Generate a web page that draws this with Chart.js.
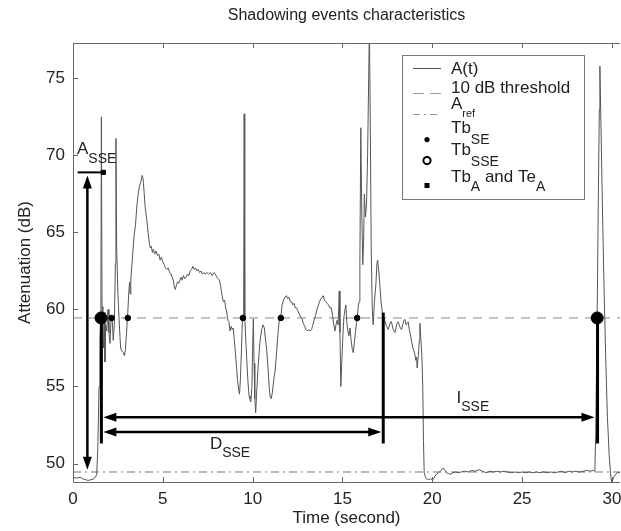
<!DOCTYPE html>
<html lang="en">
<head>
  <meta charset="UTF-8">
  <title>Shadowing events characteristics</title>
  <script src="https://cdn.jsdelivr.net/npm/chart.js"></script>
  <style>
    html, body { margin: 0; padding: 0; background: #fff; }
  </style>
</head>
<body>
  <canvas id="shadowChart" width="621" height="531"></canvas>

  <script>
    // A(t), segment by segment (time in s, attenuation in dB)
    const timeSec = [
      0.00,0.20,0.40,0.55,0.70,0.85,1.00,1.15,1.25,1.32,1.38,1.45,1.50,1.55,
      1.58,1.62,1.66,1.70,1.75,1.78,1.82,1.88,1.95,2.00,2.06,2.12,2.18,2.24,2.30,2.36,2.39,2.43,2.50,2.58,2.65,2.72,2.80,2.86,2.92,2.98,3.05,
      3.10,3.15,3.18,3.22,3.30,3.40,3.48,3.56,3.63,3.70,3.78,3.85,3.90,3.96,4.02,4.10,4.18,4.25,4.30,4.36,4.42,4.47,4.55,4.62,4.70,4.78,4.85,4.92,5.00,
      5.08,5.15,5.22,5.30,5.38,5.45,5.52,5.58,5.65,5.70,5.76,5.82,5.88,5.95,6.02,6.08,6.15,6.22,6.30,6.38,6.45,6.52,6.60,6.68,6.75,6.82,6.90,6.97,7.05,7.12,7.20,7.28,7.35,7.45,7.55,7.65,7.75,7.85,7.92,8.00,
      8.08,8.15,8.22,8.30,8.37,8.44,8.50,8.55,8.62,8.68,8.74,8.80,8.86,8.92,8.98,9.04,9.10,9.16,9.22,9.27,9.32,9.38,9.43,9.50,9.53,9.56,9.62,9.68,9.74,9.80,9.85,9.90,9.96,10.00,10.04,10.08,10.12,10.17,10.22,10.30,10.40,10.50,10.58,10.65,10.72,10.78,10.85,10.92,10.98,11.03,11.10,11.18,11.25,11.32,11.40,11.48,11.56,
      11.64,11.72,11.80,11.88,11.95,12.02,12.10,12.17,12.24,12.30,12.38,12.45,12.52,12.60,12.68,12.75,12.82,12.90,12.97,13.05,13.12,13.20,13.28,13.35,13.42,13.50,13.56,13.64,13.72,13.80,13.88,13.93,14.00,14.08,14.15,14.22,14.30,14.38,14.45,14.52,14.58,14.64,14.70,14.76,14.82,14.86,14.91,14.96,15.02,15.08,15.14,15.19,15.24,15.30,15.36,15.42,15.48,15.55,15.60,15.66,15.72,15.78,15.82,15.88,15.93,
      15.97,16.02,16.08,16.13,16.18,16.22,16.28,16.34,16.40,16.46,16.50,16.55,16.60,16.66,16.71,16.78,16.86,16.92,16.96,17.02,17.08,17.15,17.22,17.30,17.38,17.46,17.55,17.62,17.68,17.73,17.80,17.86,17.92,17.98,18.04,18.10,18.16,18.22,18.29,18.35,18.42,18.48,18.54,18.60,18.66,18.72,18.78,18.85,18.92,18.98,19.03,19.08,19.12,19.16,19.22,19.28,19.31,19.36,19.42,19.47,19.51,19.55,
      19.62,19.70,19.80,19.90,20.00,20.08,20.15,20.25,20.35,20.45,20.55,20.62,20.70,20.80,20.90,21.00,21.15,21.30,21.45,21.60,21.80,22.00,22.20,22.40,22.60,22.80,23.00,23.20,23.40,23.60,23.80,24.00,24.20,24.40,24.60,24.80,25.00,25.20,25.40,25.60,25.80,26.00,26.20,26.40,26.60,26.80,27.00,27.20,27.40,27.60,27.80,28.00,28.20,28.40,28.60,28.80,28.95,29.05,
      29.10,29.15,29.20,29.25,29.30,29.33,29.36,29.45,29.55,29.65,29.75,29.85,29.95,30.00,30.10,30.20,30.30,30.45
    ];
    const attenDb = [
      49.1,49.05,49.1,49.0,48.95,48.9,48.95,49.0,49.1,49.3,51.0,55.0,58.0,59.5,
      72.5,59.0,60.2,57.5,59.8,56.6,59.0,58.6,60.0,58.5,57.8,59.5,59.4,58.0,59.0,63.0,71.1,64.0,61.0,59.0,57.5,57.3,57.2,57.0,57.4,58.5,59.8,
      61.0,61.8,61.0,62.0,63.2,64.8,65.5,66.8,67.5,68.0,68.3,68.7,68.5,67.6,66.6,65.9,65.0,64.3,64.0,64.1,63.7,63.9,63.6,63.8,63.5,63.6,63.2,63.4,63.1,
      62.9,62.7,62.6,62.7,62.4,62.3,62.1,61.9,61.4,61.3,61.6,61.8,61.7,61.9,62.1,61.9,62.2,62.0,62.1,62.3,62.2,62.5,62.6,62.8,62.6,62.7,62.5,62.6,62.4,62.5,62.3,62.4,62.3,62.4,62.3,62.4,62.2,62.4,62.3,62.1,
      62.0,61.9,61.5,60.9,60.5,60.6,60.1,59.9,59.3,59.2,58.6,58.9,58.7,58.8,58.0,57.2,56.3,55.4,54.8,54.5,55.5,57.5,59.4,59.6,72.7,59.5,58.0,56.6,55.3,54.4,54.2,54.0,55.0,57.5,59.4,56.5,54.2,53.3,54.5,56.2,57.8,58.7,59.0,58.8,58.0,57.4,56.3,55.0,54.3,54.2,54.6,55.5,56.0,57.0,58.3,59.3,59.45,
      60.3,60.6,60.8,60.9,60.7,60.8,60.5,60.5,60.3,60.4,60.1,60.1,59.9,59.7,59.5,59.4,59.1,58.9,58.7,58.6,58.7,58.6,58.7,59.0,59.3,59.6,59.9,60.2,60.5,60.7,60.8,60.9,60.6,60.5,60.4,60.3,60.1,60.1,59.6,59.0,58.6,59.0,59.3,59.0,61.2,58.5,55.0,56.5,58.2,59.5,60.0,60.3,59.2,58.6,58.3,58.8,58.0,57.4,57.2,57.8,58.5,59.1,59.45,60.2,60.5,
      63.0,71.8,66.0,62.9,64.5,67.5,66.0,66.8,70.0,75.0,78.5,72.0,64.0,60.0,59.0,60.5,61.6,63.0,63.2,62.5,61.6,60.5,59.8,59.5,59.2,58.9,58.7,59.0,59.2,59.2,58.8,58.6,58.5,58.8,59.1,59.2,59.0,58.8,58.7,59.0,59.3,59.35,59.0,59.1,59.2,58.7,58.4,57.9,57.5,57.3,57.1,56.7,56.9,56.2,57.0,58.0,59.1,58.2,57.0,55.0,51.5,49.4,
      49.1,49.0,48.95,49.0,48.95,49.0,49.2,49.3,49.4,49.5,49.65,49.7,49.55,49.4,49.35,49.3,49.4,49.45,49.4,49.45,49.5,49.45,49.55,49.5,49.6,49.5,49.4,49.5,49.45,49.5,49.45,49.5,49.45,49.4,49.45,49.4,49.45,49.4,49.45,49.4,49.45,49.4,49.45,49.4,49.45,49.4,49.45,49.5,49.4,49.5,49.45,49.5,49.45,49.5,49.55,49.5,49.55,49.5,
      52.0,57.0,62.0,68.0,73.0,75.8,74.0,68.0,62.0,57.0,53.0,50.5,49.0,48.8,49.1,49.3,49.4,49.4
    ];

    const thresholdDb = 59.45;   // Aref + 10 dB
    const arefDb = 49.45;
    const tbSE = [2.15, 3.05, 9.46, 11.57, 15.82];
    const tbSSE = [1.56, 29.18];
    const tbATime = [1.69];
    const tbAValue = [68.9];

    const xTicks = [0, 5, 10, 15, 20, 25, 30];
    const yTicks = [50, 55, 60, 65, 70, 75];

    // annotation spans (data units)
    const asseTime = 0.8;
    const asseSpan = [49.6, 68.9];
    const asseMark = [0.26, 1.69];
    const dsseSpan = [1.58, 17.27];
    const dsseLevel = 52.05;
    const isseSpan = [1.58, 29.14];
    const isseLevel = 53.0;
    const barTimes = [1.58, 17.27, 29.2];
    const barTops = [59.45, 59.8, 59.45];
    const barBottom = 51.3;

    const FONT = '"Liberation Sans", Arial, Helvetica, sans-serif';
    const TXT = '#222';

    function subText(ctx, x, y, parts, size, subSize, drop) {
      // parts alternate: normal, subscript, normal, ...
      let cx = x;
      parts.forEach((p, i) => {
        const sub = i % 2 === 1;
        ctx.font = (sub ? subSize : size) + 'px ' + FONT;
        ctx.fillText(p, cx, sub ? y + drop : y);
        cx += ctx.measureText(p).width;
      });
    }

    function arrowHead(ctx, x, y, dx, dy) {
      const len = 13, hw = 4.5;
      ctx.beginPath();
      ctx.moveTo(x, y);
      ctx.lineTo(x - dx * len - dy * hw, y - dy * len + dx * hw);
      ctx.lineTo(x - dx * len + dy * hw, y - dy * len - dx * hw);
      ctx.closePath();
      ctx.fill();
    }

    const decorPlugin = {
      id: 'decor',
      afterDatasetsDraw(chart) {
        const ctx = chart.ctx, xs = chart.scales.x, ys = chart.scales.y;
        const px = v => xs.getPixelForValue(v), py = v => ys.getPixelForValue(v);
        ctx.save();
        ctx.strokeStyle = '#000';
        ctx.fillStyle = '#000';
        ctx.lineCap = 'butt';

        // vertical bars at the SSE start / end points
        ctx.lineWidth = 3;
        barTimes.forEach((t, i) => {
          ctx.beginPath();
          ctx.moveTo(px(t), py(barTops[i]));
          ctx.lineTo(px(t), py(barBottom));
          ctx.stroke();
        });

        // double arrows D_SSE and I_SSE
        ctx.lineWidth = 2.5;
        [[dsseSpan, dsseLevel], [isseSpan, isseLevel]].forEach(([span, lvl]) => {
          const y = py(lvl), x0 = px(span[0]) + 2, x1 = px(span[1]) - 2;
          ctx.beginPath();
          ctx.moveTo(x0 + 10, y);
          ctx.lineTo(x1 - 10, y);
          ctx.stroke();
          arrowHead(ctx, x0, y, -1, 0);
          arrowHead(ctx, x1, y, 1, 0);
        });

        // A_SSE: short level mark and vertical double arrow
        ctx.lineWidth = 2;
        ctx.beginPath();
        ctx.moveTo(px(asseMark[0]), py(asseSpan[1]));
        ctx.lineTo(px(asseMark[1]), py(asseSpan[1]));
        ctx.stroke();
        const ax = px(asseTime), yTop = py(asseSpan[1]) + 3, yBot = py(asseSpan[0]);
        ctx.lineWidth = 2.5;
        ctx.beginPath();
        ctx.moveTo(ax, yTop + 10);
        ctx.lineTo(ax, yBot - 10);
        ctx.stroke();
        arrowHead(ctx, ax, yTop, 0, -1);
        arrowHead(ctx, ax, yBot, 0, 1);

        // labels
        ctx.fillStyle = TXT;
        ctx.textAlign = 'left';
        ctx.textBaseline = 'middle';
        subText(ctx, px(0.22), py(70.4), ['A', 'SSE'], 17, 14, 10);
        subText(ctx, px(7.62), py(51.25), ['D', 'SSE'], 17, 14, 9);
        subText(ctx, px(21.35), py(54.24), ['I', 'SSE'], 17, 14, 9);
        ctx.restore();
      },
      afterDraw(chart) {
        const ctx = chart.ctx, ca = chart.chartArea;
        const xs = chart.scales.x, ys = chart.scales.y;
        ctx.save();
        // axes box (right side is cut off in the original)
        ctx.strokeStyle = '#666';
        ctx.lineWidth = 1;
        ctx.beginPath();
        ctx.moveTo(ca.right, ca.top + 0.5);
        ctx.lineTo(ca.left + 0.5, ca.top + 0.5);
        ctx.lineTo(ca.left + 0.5, ca.bottom + 0.5);
        ctx.lineTo(ca.right, ca.bottom + 0.5);
        ctx.stroke();
        // inward ticks
        ctx.beginPath();
        xTicks.forEach(v => {
          const x = Math.round(xs.getPixelForValue(v)) + 0.5;
          ctx.moveTo(x, ca.bottom); ctx.lineTo(x, ca.bottom - 5);
          ctx.moveTo(x, ca.top); ctx.lineTo(x, ca.top + 5);
        });
        yTicks.forEach(v => {
          const y = Math.round(ys.getPixelForValue(v)) + 0.5;
          ctx.moveTo(ca.left, y); ctx.lineTo(ca.left + 5, y);
        });
        ctx.stroke();

        // title centred over the axes
        ctx.fillStyle = TXT;
        ctx.font = '16px ' + FONT;
        ctx.textAlign = 'center';
        ctx.textBaseline = 'middle';
        ctx.fillText('Shadowing events characteristics', (ca.left + ca.right) / 2, 16);

        // legend box
        const bx = ca.right - 218, by = ca.top + 12, bw = 182, bh = 144;
        ctx.fillStyle = '#fff';
        ctx.fillRect(bx, by, bw, bh);
        ctx.strokeStyle = '#777';
        ctx.strokeRect(bx + 0.5, by + 0.5, bw, bh);
        const sx0 = bx + 11, sx1 = bx + 39, mx = bx + 25, tx = bx + 49;

        ctx.lineWidth = 1;
        ctx.strokeStyle = '#555';
        ctx.beginPath(); ctx.moveTo(sx0, by + 13.5); ctx.lineTo(sx1, by + 13.5); ctx.stroke();
        ctx.strokeStyle = '#999';
        ctx.setLineDash([11, 6]);
        ctx.beginPath(); ctx.moveTo(sx0, by + 38.5); ctx.lineTo(sx1, by + 38.5); ctx.stroke();
        ctx.setLineDash([7, 4, 2, 4]);
        ctx.beginPath(); ctx.moveTo(sx0, by + 59.5); ctx.lineTo(sx1, by + 59.5); ctx.stroke();
        ctx.setLineDash([]);

        ctx.fillStyle = '#000';
        ctx.beginPath(); ctx.arc(mx, by + 84.6, 2.6, 0, Math.PI * 2); ctx.fill();
        ctx.strokeStyle = '#000';
        ctx.lineWidth = 2;
        ctx.beginPath(); ctx.arc(mx, by + 105.6, 3.6, 0, Math.PI * 2); ctx.stroke();
        ctx.fillRect(mx - 2.5, by + 128, 5, 5);

        ctx.fillStyle = TXT;
        ctx.textAlign = 'left';
        ctx.textBaseline = 'middle';
        subText(ctx, tx, by + 14.6, ['A(t)'], 17, 14, 0);
        subText(ctx, tx, by + 33.3, ['10 dB threshold'], 17, 14, 0);
        subText(ctx, tx, by + 49, ['A', 'ref'], 17, 11, 10);
        subText(ctx, tx, by + 73.3, ['Tb', 'SE'], 17, 14, 12);
        subText(ctx, tx, by + 95.6, ['Tb', 'SSE'], 17, 14, 11.5);
        subText(ctx, tx, by + 122.3, ['Tb', 'A', ' and Te', 'A'], 17, 14, 10);
        ctx.restore();
      }
    };

    const ctx = document.getElementById('shadowChart').getContext('2d');
    const xMax = 30.45;
    const chart = new Chart(ctx, {
      type: 'line',
      data: {
        datasets: [
          {
            label: 'Tb_SSE',
            data: tbSSE.map(t => ({ x: t, y: thresholdDb })),
            showLine: false, pointRadius: 6, pointBackgroundColor: '#000', pointBorderColor: '#000',
            order: 0
          },
          {
            label: 'Tb_SE',
            data: tbSE.map(t => ({ x: t, y: thresholdDb })),
            showLine: false, pointRadius: 2.8, pointBackgroundColor: '#000', pointBorderColor: '#000',
            order: 0
          },
          {
            label: 'Tb_A and Te_A',
            data: tbATime.map((t, i) => ({ x: t, y: tbAValue[i] })),
            showLine: false, pointStyle: 'rect', pointRadius: 3, pointBackgroundColor: '#000', pointBorderColor: '#000',
            order: 0
          },
          {
            label: 'A(t)',
            data: timeSec.map((t, i) => ({ x: t, y: attenDb[i] })),
            borderColor: '#555', borderWidth: 1, pointRadius: 0, tension: 0,
            order: 1
          },
          {
            label: '10 dB threshold',
            data: [{ x: 0, y: thresholdDb }, { x: xMax, y: thresholdDb }],
            borderColor: '#888', borderWidth: 1, borderDash: [9, 7], pointRadius: 0,
            order: 2
          },
          {
            label: 'Aref',
            data: [{ x: 0, y: arefDb }, { x: xMax, y: arefDb }],
            borderColor: '#777', borderWidth: 1, borderDash: [8, 4, 2, 4], pointRadius: 0,
            order: 2
          }
        ]
      },
      options: {
        responsive: false,
        animation: false,
        layout: { autoPadding: false, padding: { top: 43, right: 1, left: 0, bottom: 0 } },
        plugins: {
          legend: { display: false },
          tooltip: { enabled: false },
          title: { display: false }
        },
        scales: {
          x: {
            type: 'linear', min: 0, max: xMax,
            afterBuildTicks: s => { s.ticks = xTicks.map(v => ({ value: v })); },
            afterFit: s => { s.height = 49; s.paddingLeft = 0; s.paddingRight = 0; },
            grid: { display: false, drawTicks: false },
            border: { display: false },
            ticks: { color: TXT, font: { family: FONT, size: 17 }, padding: 7, maxRotation: 0, autoSkip: false },
            title: { display: true, text: 'Time (second)', color: TXT, font: { family: FONT, size: 17 }, padding: { top: 0, bottom: 2 } }
          },
          y: {
            type: 'linear', min: 48.8, max: 77.3,
            afterBuildTicks: s => { s.ticks = yTicks.map(v => ({ value: v })); },
            afterFit: s => { s.width = 73; s.paddingTop = 0; s.paddingBottom = 0; },
            grid: { display: false, drawTicks: false },
            border: { display: false },
            ticks: { color: TXT, font: { family: FONT, size: 17 }, padding: 8 },
            title: { display: true, text: 'Attenuation (dB)', color: TXT, font: { family: FONT, size: 17 }, padding: { top: 15, bottom: 0 } }
          }
        }
      },
      plugins: [decorPlugin]
    });
  </script>
</body>
</html>
